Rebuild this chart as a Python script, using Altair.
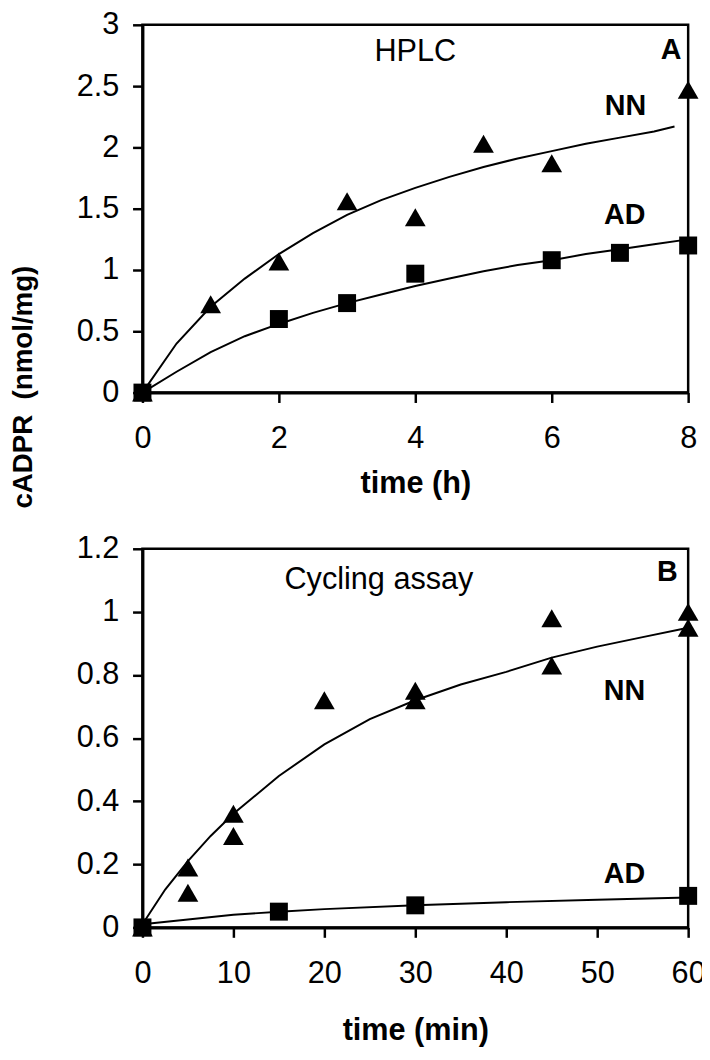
import altair as alt
import pandas as pd

# ---------------- Panel A: HPLC (time in h) ----------------
a_nn_t = [0, 1, 2, 3, 4, 5, 6, 8]
a_nn_v = [0, 0.72, 1.07, 1.56, 1.43, 2.03, 1.87, 2.47]
a_ad_t = [0, 2, 3, 4, 6, 7, 8]
a_ad_v = [0, 0.60, 0.73, 0.97, 1.08, 1.14, 1.20]

a_nn_fit_t = [0, 0.5, 1, 1.5, 2, 2.5, 3, 3.5, 4, 4.5, 5, 5.5, 6, 6.5, 7, 7.5, 7.8]
a_nn_fit_v = [0, 0.40, 0.70, 0.93, 1.13, 1.30, 1.45, 1.57, 1.67, 1.76, 1.84, 1.91, 1.97, 2.03, 2.08, 2.13, 2.17]
a_ad_fit_t = [0, 0.5, 1, 1.5, 2, 2.5, 3, 3.5, 4, 4.5, 5, 5.5, 6, 6.5, 7, 7.5, 8]
a_ad_fit_v = [0, 0.17, 0.33, 0.46, 0.56, 0.65, 0.73, 0.80, 0.87, 0.93, 0.99, 1.04, 1.08, 1.13, 1.17, 1.21, 1.25]

a_txt = ["HPLC"]
a_txt_x = [4.0]
a_txt_y = [2.78]
a_bold = ["A", "NN", "AD"]
a_bold_x = [7.75, 7.08, 7.07]
a_bold_y = [2.79, 2.34, 1.45]

# ---------------- Panel B: Cycling assay (time in min) ----------------
b_nn_t = [0, 5, 5, 10, 10, 20, 30, 30, 45, 45, 60, 60]
b_nn_v = [0, 0.19, 0.11, 0.36, 0.29, 0.72, 0.75, 0.72, 0.98, 0.83, 1.00, 0.95]
b_ad_t = [0, 15, 30, 60]
b_ad_v = [0, 0.05, 0.07, 0.10]

b_nn_fit_t = [0, 2.5, 5, 7.5, 10, 15, 20, 25, 30, 35, 40, 45, 50, 55, 60]
b_nn_fit_v = [0.01, 0.12, 0.21, 0.29, 0.36, 0.48, 0.58, 0.66, 0.72, 0.77, 0.81, 0.855, 0.89, 0.92, 0.95]
b_ad_fit_t = [0, 5, 10, 15, 20, 30, 40, 50, 60]
b_ad_fit_v = [0.01, 0.025, 0.04, 0.05, 0.058, 0.07, 0.08, 0.088, 0.095]

b_txt = ["Cycling assay"]
b_txt_x = [26.0]
b_txt_y = [1.10]
b_bold = ["B", "NN", "AD"]
b_bold_x = [57.7, 53.0, 53.0]
b_bold_y = [1.125, 0.75, 0.17]

FONT = "Liberation Sans"
LINE_W = 2


def panel(nn_t, nn_v, ad_t, ad_v, nnf_t, nnf_v, adf_t, adf_v,
          txt, txt_x, txt_y, bold, bold_x, bold_y,
          xdom, ydom, xvals, xtitle, yaxis, h, xtitle_y):
    xs = alt.Scale(domain=xdom, nice=False, zero=False)
    ys = alt.Scale(domain=ydom, nice=False)
    xax = alt.Axis(values=xvals, title=xtitle, titleY=xtitle_y, titleBaseline="middle",
                   labelFlush=False)
    X = lambda: alt.X("t:Q", scale=xs, axis=xax)
    Y = lambda: alt.Y("v:Q", scale=ys, axis=yaxis)

    nn_fit = alt.Chart(pd.DataFrame({"t": nnf_t, "v": nnf_v})).mark_line(
        color="black", strokeWidth=LINE_W).encode(x=X(), y=Y())
    ad_fit = alt.Chart(pd.DataFrame({"t": adf_t, "v": adf_v})).mark_line(
        color="black", strokeWidth=LINE_W).encode(x=X(), y=Y())
    nn_pts = alt.Chart(pd.DataFrame({"t": nn_t, "v": nn_v})).mark_point(
        shape="triangle-up", filled=True, color="black", opacity=1, size=440).encode(x=X(), y=Y())
    ad_pts = alt.Chart(pd.DataFrame({"t": ad_t, "v": ad_v})).mark_point(
        shape="square", filled=True, color="black", opacity=1, size=330).encode(x=X(), y=Y())
    t1 = alt.Chart(pd.DataFrame({"t": txt_x, "v": txt_y, "s": txt})).mark_text(
        font=FONT, fontSize=31, color="black", align="center", baseline="middle").encode(
        x=X(), y=Y(), text="s:N")
    t2 = alt.Chart(pd.DataFrame({"t": bold_x, "v": bold_y, "s": bold})).mark_text(
        font=FONT, fontSize=29, fontWeight="bold", color="black", align="center",
        baseline="middle").encode(x=X(), y=Y(), text="s:N")
    return alt.layer(ad_fit, nn_fit, ad_pts, nn_pts, t1, t2).properties(width=552, height=h)


ya = alt.Axis(values=[0, 0.5, 1, 1.5, 2, 2.5, 3], format="~g",
              title="cADPR\u00a0 (nmol/mg)", titleX=-120, titleY=366,
              titleAngle=-90, titleAlign="center", titleBaseline="middle",
              titleFontSize=28)
yb = alt.Axis(values=[0, 0.2, 0.4, 0.6, 0.8, 1, 1.2], format="~g", title="")

pa = panel(a_nn_t, a_nn_v, a_ad_t, a_ad_v, a_nn_fit_t, a_nn_fit_v, a_ad_fit_t, a_ad_fit_v,
           a_txt, a_txt_x, a_txt_y, a_bold, a_bold_x, a_bold_y,
           [0, 8], [0, 3], [0, 2, 4, 6, 8], "time (h)", ya, 372, 92)
pb = panel(b_nn_t, b_nn_v, b_ad_t, b_ad_v, b_nn_fit_t, b_nn_fit_v, b_ad_fit_t, b_ad_fit_v,
           b_txt, b_txt_x, b_txt_y, b_bold, b_bold_x, b_bold_y,
           [0, 60], [0, 1.2], [0, 10, 20, 30, 40, 50, 60], "time (min)", yb, 383, 104)

chart = alt.vconcat(pa, pb, spacing=21).properties(
    padding={"top": -7, "left": 0, "right": -5, "bottom": 0},
    background="white"
).configure_view(
    stroke="black", strokeWidth=2.5
).configure_axis(
    grid=False, domainColor="black", domainWidth=3, tickColor="black", tickWidth=2.5,
    tickSize=10, labelFont=FONT, labelFontSize=31, labelColor="black", labelPadding=14,
    titleFont=FONT, titleFontSize=31, titleFontWeight="bold", titleColor="black"
).configure_axisX(labelPadding=22)

chart.save("out.html", embed_options={"renderer": "svg", "actions": False})
